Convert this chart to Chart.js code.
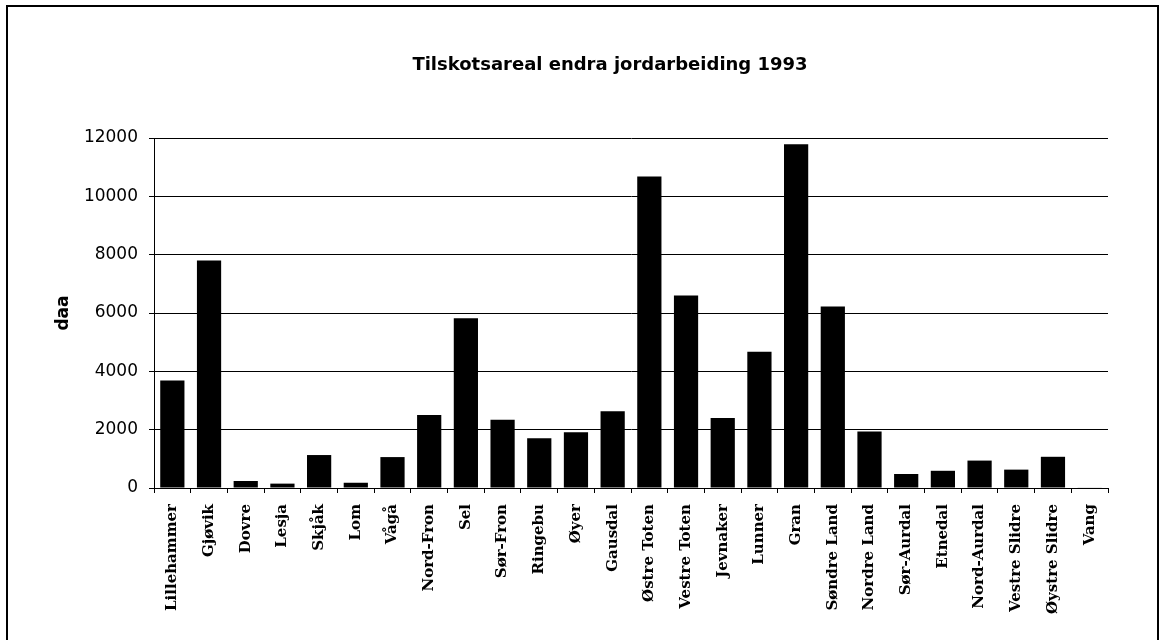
<!DOCTYPE html>
<html>
<head>
<meta charset="utf-8">
<script src="https://cdn.jsdelivr.net/npm/chart.js@4"></script>
<style>
  html, body { margin: 0; padding: 0; background: #fff; }
  #wrap { width: 1159px; height: 640px; }
</style>
</head>
<body>
<div id="wrap"><canvas id="chart" width="1159" height="640"></canvas></div>
<script>
// kommuner og areal (daa)
const kommuner = ["Lillehammer", "Gjøvik", "Dovre", "Lesja", "Skjåk", "Lom", "Vågå", "Nord-Fron", "Sel",
  "Sør-Fron", "Ringebu", "Øyer", "Gausdal", "Østre Toten", "Vestre Toten", "Jevnaker", "Lunner", "Gran",
  "Søndre Land", "Nordre Land", "Sør-Aurdal", "Etnedal", "Nord-Aurdal", "Vestre Slidre", "Øystre Slidre", "Vang"];
const areal = [3690, 7800, 240, 150, 1130, 180, 1060, 2500, 5820,
  2340, 1710, 1910, 2630, 10680, 6600, 2400, 4670, 11790,
  6220, 1940, 480, 590, 940, 630, 1070, 20];
const yTicks = [0, 2000, 4000, 6000, 8000, 10000, 12000];
const tittel = "Tilskotsareal endra jordarbeiding 1993";

// frame round the whole chart + the title (sits a bit left of centre in the original)
const framePlugin = {
  id: "frame",
  afterDraw(chart) {
    const c = chart.ctx;
    c.save();
    c.strokeStyle = "#000";
    c.lineWidth = 2;
    c.strokeRect(7, 6, 1151, 650);
    c.fillStyle = "#000";
    c.font = "bold 18px 'DejaVu Sans'";
    c.textAlign = "center";
    c.textBaseline = "middle";
    c.fillText(tittel, 610, 65);
    c.restore();
  }
};

const ctx = document.getElementById("chart");
new Chart(ctx, {
  type: "bar",
  data: {
    labels: kommuner,
    datasets: [
      {
        label: "daa",
        data: areal,
        backgroundColor: "#000",
        borderWidth: 0,
        barPercentage: 0.66,
        categoryPercentage: 1,
      },
    ],
  },
  options: {
    responsive: false,
    animation: false,
    layout: { padding: { left: 50, right: 51, top: 138, bottom: 0 } },
    plugins: {
      legend: { display: false },
      tooltip: { enabled: false },
      title: { display: false },
    },
    scales: {
      x: {
        grid: { offset: true, drawOnChartArea: false, color: "#000", tickLength: 5 },
        border: { color: "#000", width: 1 },
        ticks: {
          color: "#000",
          autoSkip: false,
          minRotation: 90,
          maxRotation: 90,
          padding: 11,
          font: { family: "'DejaVu Serif'", size: 15, weight: "bold" },
        },
        afterFit(s) { s.height = 152; },
      },
      y: {
        min: 0,
        max: 12000,
        afterBuildTicks(s) { s.ticks = yTicks.map(v => ({ value: v })); },
        grid: { color: "#000", lineWidth: 1, tickLength: 5 },
        border: { color: "#000", width: 1 },
        ticks: {
          color: "#000",
          padding: 11,
          font: { family: "'DejaVu Sans'", size: 17 },
          callback: (v) => String(v),
        },
        title: {
          display: true,
          text: "daa",
          color: "#000",
          padding: { top: 3, bottom: 0 },
          font: { family: "'DejaVu Sans'", size: 17, weight: "bold" },
        },
        afterFit(s) { s.width = 104; },
      },
    },
  },
  plugins: [framePlugin],
});
</script>
</body>
</html>
